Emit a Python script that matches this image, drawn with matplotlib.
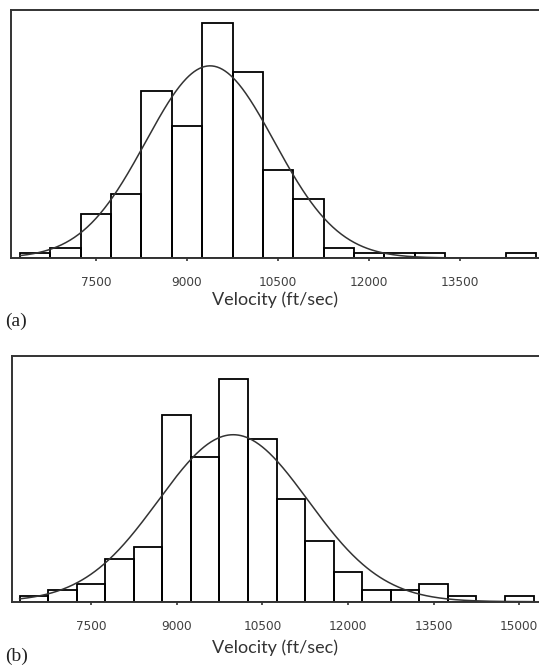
import numpy as np
import matplotlib
matplotlib.use("Agg")
import matplotlib.pyplot as plt

# ---- data ----
bin_centers_a = [6500, 7000, 7500, 8000, 8500, 9000, 9500, 10000, 10500,
                 11000, 11500, 12000, 12500, 13000, 13500, 14000, 14500]
counts_a = [1, 2, 9, 13, 34, 27, 48, 38, 18, 12, 2, 1, 1, 1, 0, 0, 1]
fit_mean_a = 9380
fit_sd_a = 1058
ticks_a = [7500, 9000, 10500, 12000, 13500]

bin_centers_b = [6500, 7000, 7500, 8000, 8500, 9000, 9500, 10000, 10500,
                 11000, 11500, 12000, 12500, 13000, 13500, 14000, 14500, 15000]
counts_b = [1, 2, 3, 7, 9, 31, 24, 37, 27, 17, 10, 5, 2, 2, 3, 1, 0, 1]
fit_mean_b = 9990
fit_sd_b = 1311
ticks_b = [7500, 9000, 10500, 12000, 13500, 15000]

bin_width = 500
xlabel = "Velocity (ft/sec)"

W, H = 539, 665
fig = plt.figure(figsize=(W / 100, H / 100), dpi=100)


def axes_px(left, top, right, bottom):
    return fig.add_axes([left / W, 1 - bottom / H, (right - left) / W, (bottom - top) / H])


def panel(ax, centers, counts, mu, sd, ticks, xlim, ylim, tag, tag_y):
    ax.bar(centers, counts, width=bin_width, fill=False, edgecolor="black",
           linewidth=1.3, zorder=2)
    n = sum(counts)
    xs = np.linspace(centers[0] - bin_width / 2, centers[-1] + bin_width / 2, 600)
    ys = n * bin_width * np.exp(-0.5 * ((xs - mu) / sd) ** 2) / (sd * np.sqrt(2 * np.pi))
    ax.plot(xs, ys, color="#333333", linewidth=1.1, zorder=3)
    ax.set_xlim(*xlim)
    ax.set_ylim(*ylim)
    ax.set_yticks([])
    ax.set_xticks(ticks)
    ax.set_xticklabels([str(t) for t in ticks])
    ax.tick_params(axis="x", direction="out", length=2.5, width=1.2, color="#333333",
                   labelsize=8.7, labelcolor="#404040", pad=10.5)
    for s in ["left", "top", "bottom"]:
        ax.spines[s].set_linewidth(1.4)
        ax.spines[s].set_color("#333333")
    ax.spines["right"].set_visible(False)
    ax.set_xlabel(xlabel, fontsize=13, family="Lato", color="#333333", va="center")
    fig.text(5 / W, 1 - tag_y / H, tag, family="Liberation Serif", fontsize=14,
             va="center", ha="left", color="#222222")


ax_a = axes_px(11, 10, 539, 258)
panel(ax_a, bin_centers_a, counts_a, fit_mean_a, fit_sd_a, ticks_a,
      (6100, 14800), (0, 248 / 4.9), "(a)", 321)
ax_a.xaxis.set_label_coords(0.5, -(300 - 258) / 248)

ax_b = axes_px(12, 356, 539, 601.7)
panel(ax_b, bin_centers_b, counts_b, fit_mean_b, fit_sd_b, ticks_b,
      (6116, 15346), (0, 245.7 / 6.03), "(b)", 656)
ax_b.xaxis.set_label_coords(0.5, -(648 - 601.7) / 245.7)

fig.savefig("out.png", dpi=100)
